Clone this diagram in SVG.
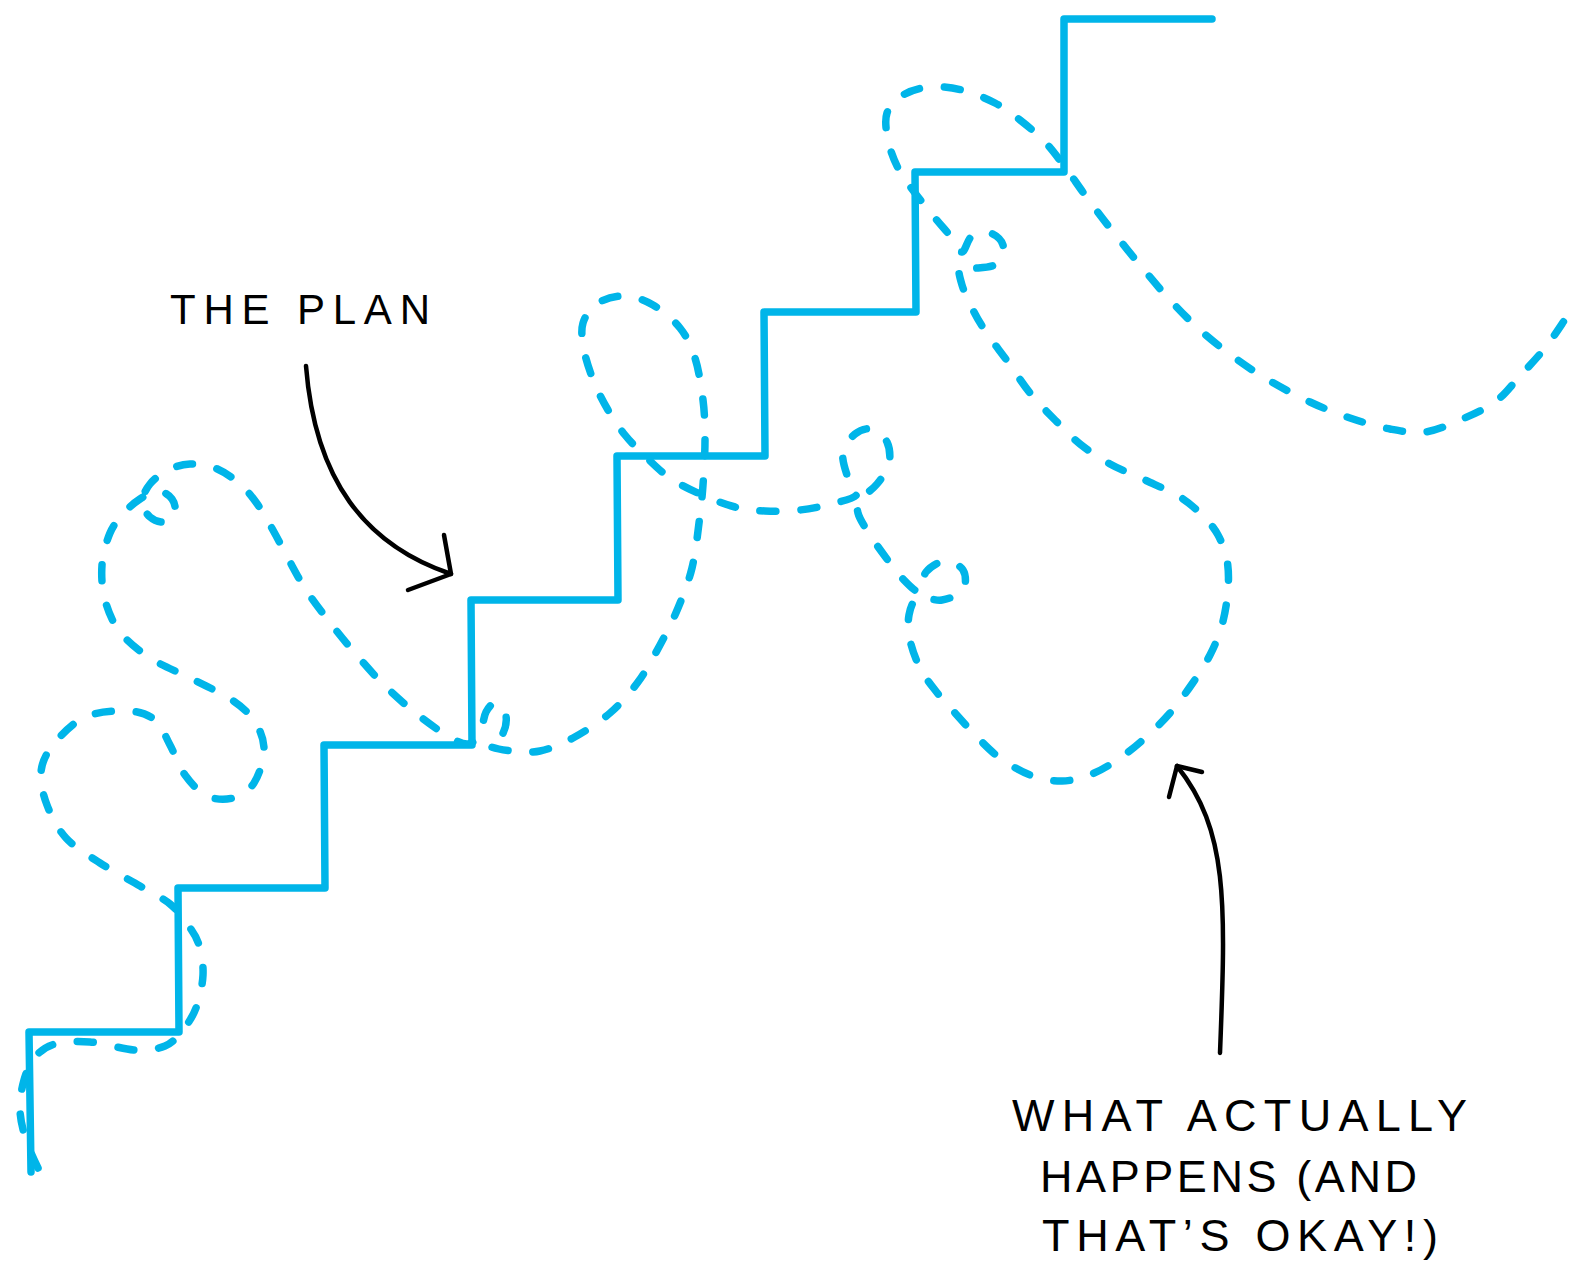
<svg xmlns="http://www.w3.org/2000/svg" width="1572" height="1272" viewBox="0 0 1572 1272">
<defs>
<style>
.stair{fill:none;stroke:#00b5e9;stroke-width:7.5;stroke-linejoin:round;stroke-linecap:round}
.wander{fill:none;stroke:#00b5e9;stroke-width:7.5;stroke-linecap:round;stroke-linejoin:round;stroke-dasharray:16 25}
.arrow{fill:none;stroke:#000;stroke-width:4.5;stroke-linecap:round;stroke-linejoin:round}
.lbl{font-family:"Liberation Sans","DejaVu Sans",sans-serif;fill:#000;font-weight:normal}
</style>
</defs>
<rect width="1572" height="1272" fill="#fff"/>
<g id="plan-stairs">
<path class="stair" d="M31,1172 L29,1032 L179,1032 L178,888 L325,888 L324,745 L472,745 L471,600 L618,600 L617,456 L765,456 L764,312 L916,312 L915,172 L1064,172 L1064,19 L1212,19"/>
</g>
<g id="actual-path">
<path class="wander" d="M38,1168 S29,1149.7 26,1140 S20.3,1120 20,1110 S21.5,1088.8 24,1080 S29.8,1063 35,1057 S45.8,1046.5 55,1044 S76.7,1041 90,1042 S122.5,1049.3 135,1050 S157.2,1049.2 165,1046 S176.8,1037.3 182,1031 S192.5,1017.3 196,1008 S202.5,985.5 203,975 S201.5,953.3 199,945 S192.8,931.8 188,925 S178,910.5 170,904 S151.7,892.8 140,886 S112.3,871 100,863 S74.8,847.7 66,838 S51.2,816 47,805 S40,782 41,772 S45.7,754.2 53,745 S72.5,722.7 85,717 S116.3,710.5 128,711 S148,714.3 155,720 S165,735.8 170,745 S178.8,766.5 185,775 S199,792.2 207,796 S225.2,800.2 233,798 S248.8,791 254,783 S263.8,760.2 264,750 S260.3,730.3 255,722 S242.8,707.3 232,700 S203.7,685 190,678 S161.7,665.7 150,658 S127.5,641.7 120,632 S108,611.2 105,600 S101.2,576.2 102,565 S106.3,541.7 110,533 S119,518.7 124,513 S134.3,502.7 140,499 S152.7,491 158,491 S169.2,495.2 172,499 S176.3,510.2 175,514 S168.2,521.5 164,522 S153.7,520.3 150,517 S142,507.5 142,502 S145.7,489.3 150,484 S161.3,473.3 168,470 S182.2,464.3 190,464 S206.7,464.7 215,468 S232.8,477.8 240,484 S252.3,497 258,505 S268.7,522.5 274,532 S284.7,552.3 290,562 S299.7,580.3 306,590 S320,609.7 328,620 S344.5,641 354,652 S374.3,675.5 385,686 S407.5,706.7 418,715 S439.7,731.2 448,736 S462.7,744.5 468,744 S477,738.3 480,733 S483.3,717 486,712 S492.7,702.3 496,703 S505,710.7 506,716 S505,730.2 502,735 S486.3,742.3 488,745 S503.3,750 512,751 S529.8,753.2 540,751 S561.3,744.3 573,738 S599.2,722.3 610,713 S629.7,693.3 638,682 S653.3,657.3 660,645 S672.7,620.8 678,608 S688.5,582.2 692,568 S697.2,536.8 699,523 S702,498.8 703,485 S705,454.2 705,440 S704.7,413.7 703,400 S698.8,370 695,358 S687,336.8 680,328 S662.2,310.3 653,305 S634.2,296.3 625,296 S605,298.5 598,303 S585.3,315.2 583,323 S582.2,340.2 584,350 S590,372 594,382 S602.8,401.2 608,410 S618.8,427.3 625,435 S637.5,448.8 645,456 S660.8,471.7 670,478 S689.2,489.2 700,494 S724.2,504.2 735,507 S754.2,510.5 765,511 S788.3,511.3 800,510 S825.5,505.7 835,503 S855,498.7 857,494 S849.3,482 847,475 S841.7,458.8 843,452 S850.2,437.8 855,434 S866.7,427.7 872,429 S884.2,436.2 887,442 S890.7,457 889,464 S881.8,478 877,484 S863.2,495.2 860,500 S856.7,507.7 858,513 S863.7,525 868,532 S878.3,547.3 884,555 S896,571.8 902,578 S916,593 920,592 S921.8,577.2 926,572 S938.8,561.3 945,561 S960,565.2 963,570 S966.5,585 963,590 S949.5,598.7 942,600 S923.5,595.5 918,598 S910.3,608 909,615 S908.2,631.2 910,640 S915.8,659.7 920,668 S929.2,682.5 935,690 S947.8,705 955,713 S970.5,730.5 978,738 S991.3,751.8 1000,758 S1019.7,771.2 1030,775 S1051.7,781.2 1062,781 S1082.3,777.8 1092,774 S1111.2,764 1120,758 S1136.7,745.5 1145,738 S1162.2,722 1170,713 S1185.3,693.7 1192,684 S1205,664.8 1210,655 S1219,635.8 1222,625 S1227.2,600.8 1228,590 S1228.7,569.2 1227,560 S1222,542.3 1218,535 S1209.3,522.3 1203,516 S1189.7,503 1180,497 S1156.7,485.5 1145,480 S1120.8,470 1110,464 S1089.2,451.3 1080,444 S1063.3,428.5 1055,420 S1037.8,402.7 1030,393 S1015,371.7 1008,362 S993.7,343.3 988,335 S978.3,320.3 974,312 S964.3,292.7 962,285 S957.3,268.8 960,266 S971.7,268.5 978,268 S993.8,266.8 998,263 S1004.3,250 1003,245 S995.2,234.5 990,233 S976.7,232.8 972,236 S965.3,251.7 962,252 S956.5,243.7 952,238 S941.2,225.5 935,218 S921.2,201.3 915,193 S902.5,176.8 898,168 S889.8,149.2 888,140 S884.5,120.5 887,113 S895.8,99.3 903,95 S920.2,87.8 930,87 S951.2,87.3 962,90 S985.3,98 995,103 S1011.7,113.5 1020,120 S1037.5,134.2 1045,142 S1058.3,158.2 1065,167 S1077.5,184.8 1085,195 S1100.8,216.3 1110,228 S1130,253 1140,265 S1160,289.2 1170,300 S1189.2,320.3 1200,330 S1223.3,349.5 1235,358 S1257.5,373.7 1270,381 S1296.7,395.8 1310,402 S1336.7,413.5 1350,418 S1377.5,426.7 1390,429 S1413.3,433.5 1425,432 S1448.3,425 1460,420 S1485,409.3 1495,402 S1511.7,385 1520,376 S1537.3,357.7 1545,348 S1562.5,323 1566,318"/>
</g>
<g id="connectors">
<path class="arrow" d="M306,366 C315,480 365,545 451,574"/>
<path class="arrow" d="M444,535 L451,574 L408,590"/>
<path class="arrow" d="M1220,1053 C1226,900 1228,830 1177,766"/>
<path class="arrow" d="M1169,797 L1177,766 L1202,772"/>
</g>
<g id="label-plan">
<text class="lbl" x="170" y="324" font-size="42" textLength="260" lengthAdjust="spacing">THE PLAN</text>
</g>
<g id="label-actual">
<text class="lbl" x="1012" y="1131" font-size="45" textLength="455" lengthAdjust="spacing">WHAT ACTUALLY</text>
<text class="lbl" x="1040" y="1192" font-size="45" textLength="377" lengthAdjust="spacing">HAPPENS (AND</text>
<text class="lbl" x="1042" y="1251" font-size="45" textLength="396" lengthAdjust="spacing">THAT’S OKAY!)</text>
</g>
</svg>
